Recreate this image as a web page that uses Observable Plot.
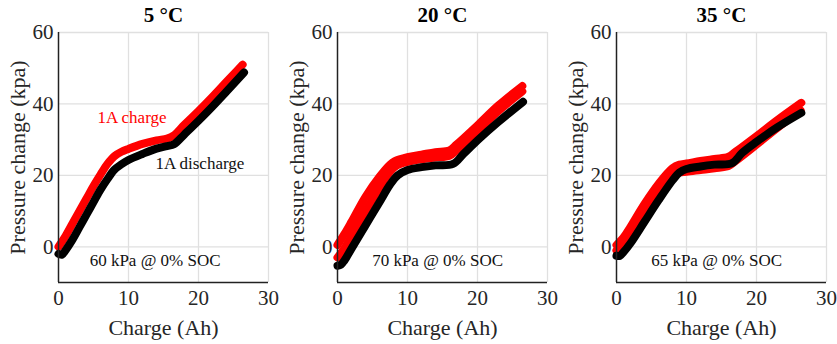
<!DOCTYPE html>
<html>
<head>
<meta charset="utf-8">
<script src="https://cdn.jsdelivr.net/npm/d3@7"></script>
<script src="https://cdn.jsdelivr.net/npm/@observablehq/plot@0.6"></script>
<style>
  html, body { margin: 0; padding: 0; background: #fff; }
  #row { display: flex; width: 837px; height: 344px; }
  #row svg { display: block; }
  #row svg, #row svg text { font-family: "Liberation Serif", "Times New Roman", serif !important; }
</style>
</head>
<body>
<div id="row"></div>
<script>
// Panel titles and notes
const titles = ["5 °C", "20 °C", "35 °C"];
const socNotes = ["60 kPa @ 0% SOC", "70 kPa @ 0% SOC", "65 kPa @ 0% SOC"];
const xTicks = [0, 10, 20, 30];
const yTicks = [0, 20, 40, 60];

// 5 °C  [charge (Ah), pressure change (kPa)]
const charge5 = [[0,0],[1,3],[2,6.5],[3,10],[4,13.5],[5,17],[6,20.2],[7,23.2],[8,25.4],[9,26.6],[10,27.4],[12,28.8],[14,29.8],[15.5,30.3],[16.5,31.2],[18,34.2],[20,38],[22,42],[24,46.2],[25.5,49.3],[26.3,51]];
const discharge5 = [[0,-2],[0.5,-2.2],[1,-1],[2,2],[3,5.5],[4,9],[5,12.5],[6,16],[7,19],[8,21.6],[9,23.1],[10,24.3],[12,26],[14,27.5],[15.5,28.2],[16.5,28.7],[18,31.5],[20,35.3],[22,39.3],[24,43.5],[26.5,48.8]];

// 20 °C
const charge20a = [[0,0.5],[1,3.6],[2,7],[4,14],[6,19.6],[7.5,23],[8.2,24],[10,25.1],[12,25.8],[14,26.5],[16,27],[17,28.6],[20,34],[23,39.6],[26.4,45]];
const charge20b = [[0,-3],[1,-0.4],[2,3],[4,10],[6,16.5],[7.5,21],[8.5,22.8],[10,23.8],[12,24.5],[14,25],[16,25.5],[17,27],[20,32.4],[23,38],[26.4,43.5]];
const discharge20 = [[0,-5.3],[0.5,-5],[1,-3.8],[2,-0.5],[4,6],[6,12.5],[7.5,17.4],[8.6,20],[10,21.5],[12,22.3],[14,22.8],[16.5,23.2],[18,26],[20,29.8],[23,35],[26.5,40.6]];

// 35 °C
const charge35a = [[0,0.5],[1,2.6],[2,5.6],[4,12],[6,17.6],[8,22],[9,23],[10,23.3],[12,24],[14,24.6],[16,25.2],[17,26.6],[20,31],[23,35.5],[26.4,40.3]];
const charge35b = [[0,-1],[2,3.5],[4,9.5],[6,15],[8,19.8],[9,20.8],[10,21],[12,21.5],[14,22],[16,22.6],[17,24],[20,28.6],[23,33.3],[26.3,38.2]];
const discharge35 = [[0,-2.5],[0.5,-2.5],[1,-1.5],[2,1],[4,7],[6,13],[8,18.6],[9,20.8],[10,21.8],[12,22.5],[14,23],[16.5,23.4],[18,26.4],[20,29.4],[23,33.5],[26.4,37.5]];

// text annotations (panel 1 only)
const chargeLabel = [{x: 10.5, y: 36.3, t: "1A charge"}];
const dischargeLabel = [{x: 20.2, y: 23.3, t: "1A discharge"}];

const panels = [
  {title: titles[0], note: socNotes[0], noteX: 13.8, charges: [charge5], discharge: discharge5, labels: true},
  {title: titles[1], note: socNotes[1], noteX: 14.3, charges: [charge20a, charge20b], discharge: discharge20, labels: false},
  {title: titles[2], note: socNotes[2], noteX: 14.3, charges: [charge35a, charge35b], discharge: discharge35, labels: false}
];

const serif = "Liberation Serif";
const row = document.getElementById("row");

for (const p of panels) {
  const lineOpts = {x: d => d[0], y: d => d[1], strokeWidth: 8, strokeLinecap: "round", strokeLinejoin: "round", curve: "catmull-rom"};
  const marks = [
    Plot.gridX(xTicks.slice(1), {stroke: "#e0e0e0", strokeOpacity: 1, strokeWidth: 1.3}),
    Plot.gridY(yTicks, {stroke: "#e0e0e0", strokeOpacity: 1, strokeWidth: 1.3}),
    ...p.charges.map(c => Plot.line(c, {...lineOpts, stroke: "#ff0000"})),
    Plot.line(p.discharge, {...lineOpts, stroke: "#000000"}),
    Plot.ruleX([0], {stroke: "#222", strokeWidth: 1.5}),
    Plot.ruleY([-10], {stroke: "#222", strokeWidth: 1.5}),
    Plot.axisX({ticks: xTicks, tickSize: 0, tickPadding: 8, fontSize: 21, label: null, color: "#262626"}),
    Plot.axisY({ticks: yTicks, tickSize: 0, tickPadding: 5, fontSize: 21, label: null, color: "#262626"}),
    Plot.text([p.title], {frameAnchor: "top", lineAnchor: "middle", dy: -17, fontSize: 21, fontWeight: "bold", fill: "#000"}),
    Plot.text(["Pressure change (kpa)"], {frameAnchor: "left", textAnchor: "middle", lineAnchor: "middle", dx: -41, rotate: -90, fontSize: 22, fill: "#262626"}),
    Plot.text(["Charge (Ah)"], {frameAnchor: "bottom", lineAnchor: "middle", dy: 45, fontSize: 22, fill: "#262626"}),
    Plot.text([p.note], {x: () => p.noteX, y: () => -3.9, fontSize: 17, fill: "#111"})
  ];
  if (p.labels) {
    marks.push(Plot.text(chargeLabel, {x: "x", y: "y", text: "t", fontSize: 17, fill: "#ff0000"}));
    marks.push(Plot.text(dischargeLabel, {x: "x", y: "y", text: "t", fontSize: 17, fill: "#111"}));
  }
  const chart = Plot.plot({
    width: 279, height: 344,
    marginLeft: 58, marginRight: 11, marginTop: 32, marginBottom: 62,
    style: {fontFamily: serif, background: "#fff", overflow: "visible"},
    x: {domain: [0, 30], axis: null},
    y: {domain: [-10, 60], axis: null},
    marks
  });
  row.appendChild(chart);
}
</script>
</body>
</html>
